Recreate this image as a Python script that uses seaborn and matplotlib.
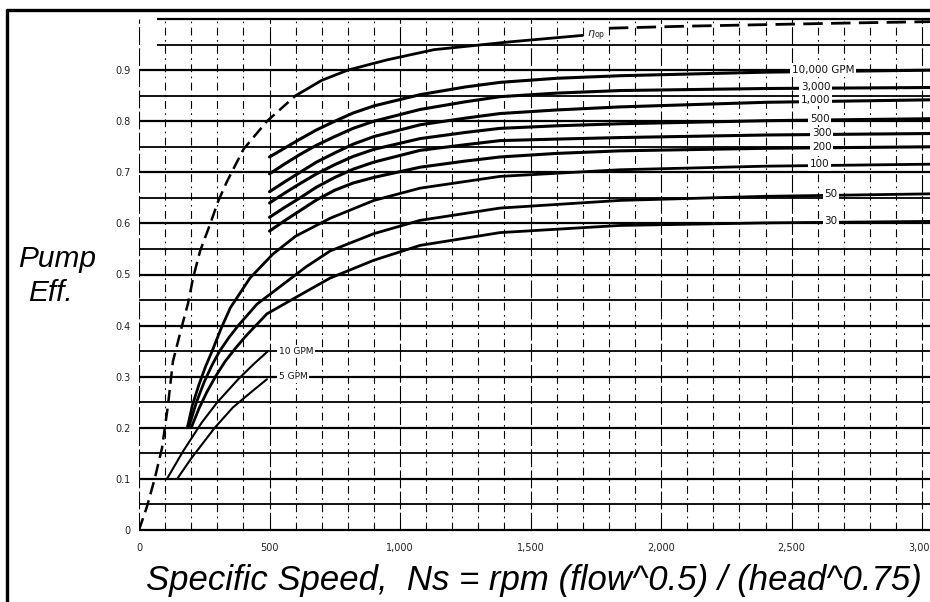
import numpy as np
import pandas as pd
import matplotlib
matplotlib.use("Agg")
import matplotlib.pyplot as plt
from matplotlib.lines import Line2D
import seaborn as sns

# ---------------- data ----------------
ns_max_dash = [0, 30, 60, 88, 110, 130, 165, 188, 207, 234, 272, 303, 337, 400, 490, 600]
eff_max_dash = [0, 0.045, 0.1, 0.16, 0.24, 0.33, 0.4, 0.444, 0.493, 0.546, 0.598, 0.643, 0.682, 0.745, 0.8, 0.85]
ns_max_solid = [600, 700, 800, 950, 1130, 1415, 1700]
eff_max_solid = [0.85, 0.88, 0.9, 0.92, 0.94, 0.955, 0.968]
ns_max_ext = [1800, 2100, 2400, 2700, 3050]
eff_max_ext = [0.982, 0.986, 0.989, 0.992, 0.995]

ns_upper = [500, 560, 617, 680, 750, 820, 900, 1077, 1250, 1383, 1600, 1843, 2400, 3050]
eff_10000 = [0.73, 0.748, 0.765, 0.783, 0.8, 0.816, 0.83, 0.852, 0.867, 0.876, 0.884, 0.889, 0.896, 0.9]
eff_3000 = [0.697, 0.717, 0.735, 0.753, 0.77, 0.786, 0.8, 0.823, 0.838, 0.848, 0.855, 0.86, 0.864, 0.866]
eff_1000 = [0.662, 0.682, 0.7, 0.72, 0.738, 0.755, 0.77, 0.793, 0.806, 0.815, 0.822, 0.828, 0.837, 0.842]
eff_500 = [0.64, 0.66, 0.678, 0.697, 0.715, 0.731, 0.745, 0.766, 0.778, 0.786, 0.791, 0.795, 0.801, 0.805]
eff_300 = [0.612, 0.632, 0.65, 0.671, 0.69, 0.706, 0.72, 0.743, 0.754, 0.762, 0.765, 0.768, 0.773, 0.776]
eff_200 = [0.585, 0.606, 0.625, 0.646, 0.665, 0.679, 0.69, 0.71, 0.722, 0.73, 0.737, 0.742, 0.747, 0.75]

ns_100 = [185, 205, 230, 255, 280, 315, 350, 425, 513, 600, 732, 900, 1077, 1383, 1843, 2400, 3050]
eff_100 = [0.2, 0.245, 0.285, 0.32, 0.35, 0.395, 0.435, 0.493, 0.54, 0.575, 0.61, 0.645, 0.669, 0.692, 0.705, 0.712, 0.716]
ns_50 = [190, 220, 250, 280, 310, 345, 380, 452, 550, 640, 732, 900, 1077, 1383, 1843, 2400, 3050]
eff_50 = [0.2, 0.25, 0.29, 0.323, 0.351, 0.377, 0.4, 0.442, 0.48, 0.515, 0.546, 0.58, 0.606, 0.63, 0.645, 0.653, 0.658]
ns_30 = [200, 230, 260, 295, 330, 370, 410, 490, 600, 732, 900, 1077, 1383, 1843, 2400, 3050]
eff_30 = [0.2, 0.238, 0.27, 0.302, 0.33, 0.356, 0.38, 0.423, 0.455, 0.493, 0.528, 0.557, 0.582, 0.596, 0.601, 0.604]
ns_10 = [107, 170, 240, 300, 380, 440, 494]
eff_10 = [0.1, 0.155, 0.21, 0.25, 0.295, 0.325, 0.35]
ns_5 = [146, 200, 290, 360, 430, 490]
eff_5 = [0.1, 0.14, 0.2, 0.24, 0.27, 0.295]

right_labels = ["10,000 GPM", "3,000", "1,000", "500", "300", "200", "100", "50", "30"]
right_label_eff = [0.9, 0.866, 0.842, 0.805, 0.776, 0.75, 0.716, 0.658, 0.604]
low_labels = ["10 GPM", "5 GPM"]
low_label_eff = [0.35, 0.3]

x_ticks = [0, 500, 1000, 1500, 2000, 2500, 3000]
x_tick_labels = ["0", "500", "1,000", "1,500", "2,000", "2,500", "3,000"]
y_ticks = [0, 0.1, 0.2, 0.3, 0.4, 0.5, 0.6, 0.7, 0.8, 0.9]
y_tick_labels = ["0", "0.1", "0.2", "0.3", "0.4", "0.5", "0.6", "0.7", "0.8", "0.9"]

# ---------------- figure ----------------
sns.set_theme(style="white")
plt.rcParams['font.family'] = ['DejaVu Sans']

W, H = 930, 602
fig = plt.figure(figsize=(W / 100, H / 100), dpi=100)
fig.patch.set_facecolor("white")

ax = fig.add_axes([139 / W, (602 - 535.1) / H, 1 - 139 / W, (535.1 - 13.9) / H])
ax.set_xlim(0, 3030)
ax.set_ylim(-0.01, 1.01)
for s in ax.spines.values():
    s.set_visible(False)

# horizontal grid lines every 0.05
for i in range(0, 21):
    yv = i * 0.05
    lw = 1.6 if i % 2 == 0 else 1.3
    x0 = 70 if i >= 19 else 0
    ax.plot([x0, 3030], [yv, yv], color="black", lw=lw, zorder=1, solid_capstyle="butt")

# vertical broken grid lines every 100
for i in range(0, 31):
    xv = i * 100
    ls = (0, (7, 4, 1.5, 4)) if i % 5 else (0, (16, 3))
    ax.plot([xv, xv], [0, 1.0], color="black", lw=0.8, ls=ls, zorder=1)

def draw(xs, ys, lw=2.0, ls="-"):
    df = pd.DataFrame({"Ns": xs, "eff": ys})
    sns.lineplot(data=df, x="Ns", y="eff", ax=ax, color="black", lw=lw,
                 linestyle=ls, sort=False, estimator=None, zorder=3)

draw(ns_max_dash, eff_max_dash, lw=1.8, ls=(0, (5, 2.5)))
draw(ns_max_solid, eff_max_solid, lw=2.0)
draw(ns_max_ext, eff_max_ext, lw=2.0, ls=(0, (7, 3)))
for e in [eff_10000, eff_3000, eff_1000, eff_500, eff_300, eff_200]:
    draw(ns_upper, e, lw=2.2)
draw(ns_100, eff_100, lw=2.0)
draw(ns_50, eff_50, lw=2.0)
draw(ns_30, eff_30, lw=2.0)
draw(ns_10, eff_10, lw=1.5)
draw(ns_5, eff_5, lw=1.5)

# labels on the curves
label_x = [2500, 2535, 2535, 2570, 2578, 2578, 2570, 2625, 2625]
for t, yv, xv in zip(right_labels, right_label_eff, label_x):
    ax.text(xv, yv, t, fontsize=7.5, va="center", ha="left", color="#111",
            bbox=dict(facecolor="white", edgecolor="none", pad=1.2), zorder=5)
for t, yv in zip(low_labels, low_label_eff):
    ax.text(535, yv, t, fontsize=6.5, va="center", ha="left", color="#111",
            bbox=dict(facecolor="white", edgecolor="none", pad=1.0), zorder=5)
ax.text(1715, 0.968, r"$\eta_{\rm op}$", fontsize=8, va="center", ha="left",
        bbox=dict(facecolor="white", edgecolor="none", pad=0.5), zorder=5)

# ticks
ax.set_xticks(x_ticks)
ax.set_xticklabels(x_tick_labels, fontsize=7, color="#222")
ax.set_yticks(y_ticks)
ax.set_yticklabels(y_tick_labels, fontsize=7, color="#222")
ax.tick_params(axis="both", length=0, pad=6)
ax.set_xlabel("")
ax.set_ylabel("")

# axis titles
fam = ["Liberation Sans", "DejaVu Sans"]
fig.text(57 / W, 1 - 267 / H, "Pump", ha="center", va="baseline",
         fontsize=21.5, style="italic", family=fam, color="black")
fig.text(50 / W, 1 - 301 / H, "Eff.", ha="center", va="baseline",
         fontsize=21.5, style="italic", family=fam, color="black")
fig.text(146 / W, 1 - 590 / H,
         "Specific Speed,  Ns = rpm (flow^0.5) / (head^0.75)",
         ha="left", va="baseline", fontsize=25, style="italic",
         family=fam, color="black")

# outer frame (left and top)
fig.add_artist(Line2D([7 / W, 7 / W], [0, 1 - 10 / H], lw=2.4, color="black",
                      transform=fig.transFigure))
fig.add_artist(Line2D([7 / W, 1], [1 - 10 / H, 1 - 10 / H], lw=2.4, color="black",
                      transform=fig.transFigure))

fig.savefig("out.png", dpi=100)
